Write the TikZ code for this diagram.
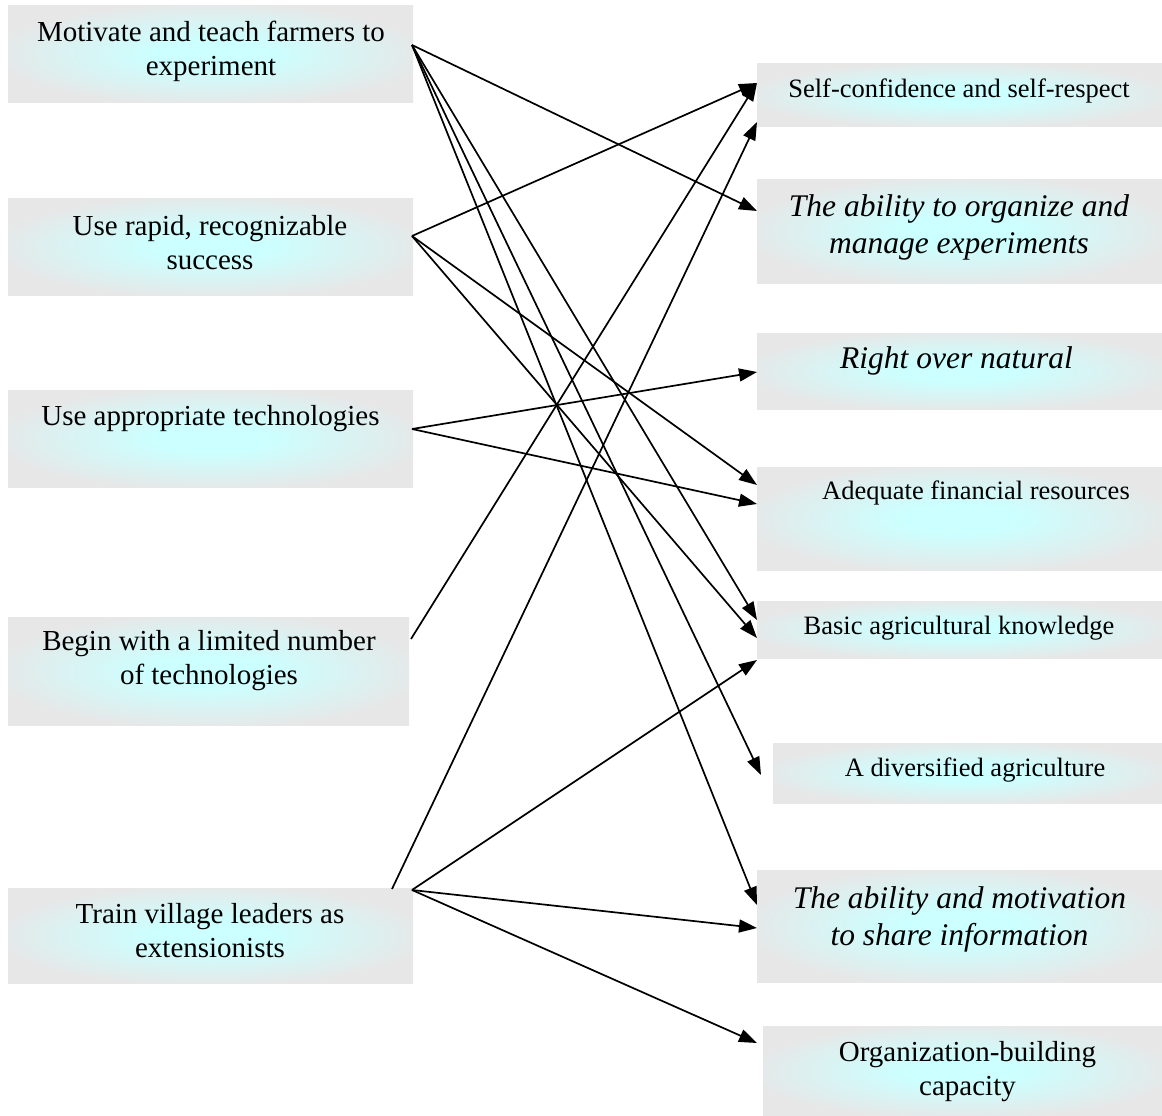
\documentclass[tikz,border=0pt]{standalone}
\usepackage{fontspec}
\setmainfont{Liberation Serif}
\usetikzlibrary{arrows.meta}
\definecolor{boxg}{RGB}{231,231,231}
\definecolor{glowc}{RGB}{204,255,255}
\pgfdeclareradialshading{glow}{\pgfpoint{0bp}{0bp}}{color(0bp)=(glowc); color(7bp)=(glowc); color(27bp)=(boxg); color(50bp)=(boxg)}
\tikzset{
  boxn/.style={shade, shading=glow, draw=none, inner sep=0pt, outer sep=0pt},
  lt/.style={align=center, inner sep=0pt, font=\fontsize{29}{34}\selectfont},
  rt/.style={align=center, inner sep=0pt, font=\fontsize{26.5}{32}\selectfont},
  ri/.style={align=center, inner sep=0pt, font=\itshape\fontsize{31.5}{37}\selectfont},
  arr/.style={line width=1.7pt, -{Triangle[length=18pt,width=13pt]}}
}
\begin{document}
\begin{tikzpicture}[x=1pt,y=-1pt]
\useasboundingbox (0,0) rectangle (1162,1116);
% left boxes
\node[boxn, minimum width=405pt, minimum height=96pt] (L1) at (210.5,54) {};
\node[boxn, minimum width=405pt, minimum height=97pt] (L2) at (210.5,246.5) {};
\node[boxn, minimum width=405pt, minimum height=97pt] (L3) at (210.5,438.5) {};
\node[boxn, minimum width=401pt, minimum height=108pt] (L4) at (208.5,671) {};
\node[boxn, minimum width=405pt, minimum height=95pt] (L5) at (210.5,935.5) {};
% right boxes
\node[boxn, minimum width=405pt, minimum height=62pt] (R1) at (959.5,95) {};
\node[boxn, minimum width=405pt, minimum height=104pt] (R2) at (959.5,231) {};
\node[boxn, minimum width=405pt, minimum height=76pt] (R3) at (959.5,371) {};
\node[boxn, minimum width=405pt, minimum height=103pt] (R4) at (959.5,518.5) {};
\node[boxn, minimum width=405pt, minimum height=57pt] (R5) at (959.5,629.5) {};
\node[boxn, minimum width=389pt, minimum height=60pt] (R6) at (967.5,773) {};
\node[boxn, minimum width=405pt, minimum height=112pt] (R7) at (959.5,926) {};
\node[boxn, minimum width=399pt, minimum height=90pt] (R8) at (962.5,1071) {};
% texts
\node[lt] (L1t) at (211,51) {Motivate and teach farmers to\\experiment};
\node[lt] (L2t) at (210,243) {Use rapid, recognizable\\success};
\node[lt] (L3t) at (210.5,419) {Use appropriate technologies};
\node[lt] (L4t) at (209,661) {Begin with a limited number\\of technologies};
\node[lt] (L5t) at (210,931) {Train village leaders as\\extensionists};
\node[rt] (R1t) at (959,91) {Self-confidence and self-respect};
\node[ri] (R2t) at (959,227.5) {The ability to organize and\\manage experiments};
\node[ri] (R3t) at (956.5,361) {Right over natural};
\node[rt] (R4t) at (976,493) {Adequate financial resources};
\node[rt] (R5t) at (959,628) {Basic agricultural knowledge};
\node[rt] (R6t) at (975,770) {A diversified agriculture};
\node[ri] (R7t) at (959.5,919) {The ability and motivation\\to share information};
\node[lt] (R8t) at (967.5,1072) {Organization-building\\capacity};
% connector end points
\coordinate (s1) at (412,45);
\coordinate (s2) at (412,236);
\coordinate (s3) at (412,429);
\coordinate (s4) at (411,639);
\coordinate (s5a) at (392,889);
\coordinate (s5) at (412,890);
\coordinate (t1a) at (757,83);
\coordinate (t1b) at (757,122);
\coordinate (t2) at (757,211);
\coordinate (t3) at (757,372);
\coordinate (t4a) at (757,485);
\coordinate (t4b) at (757,504);
\coordinate (t5a) at (757,620);
\coordinate (t5b) at (757,638);
\coordinate (t5c) at (757,660);
\coordinate (t6) at (761,775);
\coordinate (t7a) at (757,905);
\coordinate (t7b) at (757,928);
\coordinate (t8) at (757,1043);
% connectors
\draw[arr] (s1) -- (t2);
\draw[arr] (s1) -- (t5a);
\draw[arr] (s1) -- (t6);
\draw[arr] (s1) -- (t7a);
\draw[arr] (s2) -- (t1a);
\draw[arr] (s2) -- (t4a);
\draw[arr] (s2) -- (t5b);
\draw[arr] (s3) -- (t3);
\draw[arr] (s3) -- (t4b);
\draw[arr] (s4) -- (t1a);
\draw[arr] (s5a) -- (t1b);
\draw[arr] (s5) -- (t5c);
\draw[arr] (s5) -- (t7b);
\draw[arr] (s5) -- (t8);
\end{tikzpicture}
\end{document}
